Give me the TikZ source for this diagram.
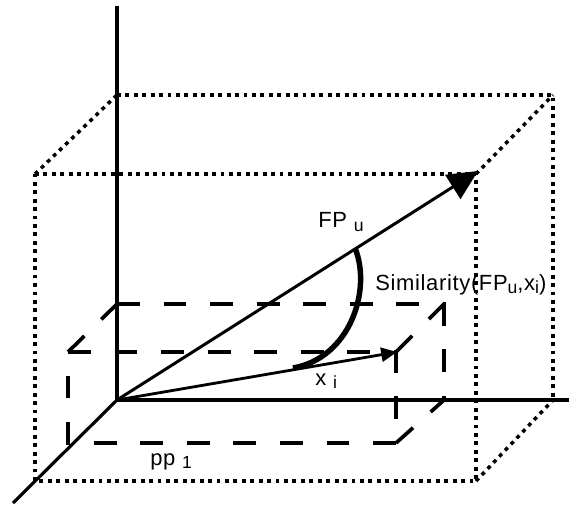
\documentclass[tikz,border=0pt]{standalone}
\usepackage{fontspec}
\setmainfont{Liberation Sans}[LetterSpace=3]
\usetikzlibrary{arrows.meta}
\newcommand{\lowsub}[1]{\raisebox{-2.2pt}{\fontsize{10}{12}\selectfont #1}}

\begin{document}
\begin{tikzpicture}[x=0.02cm, y=-0.02cm,
  axis/.style={line width=1.8pt},
  yaxis/.style={line width=2.4pt},
  fpvec/.style={-{Triangle[length=17pt, width=16pt]}, line width=1.7pt},
  xvec/.style={-{Triangle[length=9pt, width=8pt]}, line width=1.6pt},
  outerbox/.style={line width=2pt, dash pattern=on 2.2pt off 2.6pt},
  innerbox/.style={line width=2.1pt, dash pattern=on 13pt off 13.5pt},
  simarc/.style={line width=3.1pt},
  lbl/.style={font=\fontsize{12.5}{14}\selectfont, anchor=base west, inner sep=0pt}
]
\useasboundingbox (0,0) rectangle (570,506);

\coordinate (O) at (117,400);
\coordinate (ytop) at (117,6);
\coordinate (xend) at (569,400);
\coordinate (zend) at (13,503);

% dotted box
\coordinate (ftl) at (35,174);
\coordinate (ftr) at (476,174);
\coordinate (fbr) at (476,481);
\coordinate (fbl) at (35,481);
\coordinate (btl) at (117,95);
\coordinate (btr) at (553,95);
\coordinate (bbr) at (553,400);
\draw[outerbox] (ftl) -- (ftr) -- (fbr) -- (fbl) -- cycle;
\draw[outerbox] (btl) -- (btr) -- (bbr);
\draw[outerbox] (ftl) -- (btl);
\draw[outerbox] (ftr) -- (btr);
\draw[outerbox] (fbr) -- (bbr);

% dashed box
\coordinate (itl) at (68,352);
\coordinate (itr) at (396,352);
\coordinate (ibr) at (396,443);
\coordinate (ibl) at (68,443);
\coordinate (jtl) at (117,304);
\coordinate (jtr) at (444,304);
\coordinate (jbr) at (444,400);
\draw[innerbox] (itl) -- (itr) -- (ibr) -- (ibl) -- cycle;
\draw[innerbox] (jtl) -- (jtr) -- (jbr);
\draw[innerbox] (itl) -- (jtl);
\draw[innerbox] (itr) -- (jtr);
\draw[innerbox] (ibr) -- (jbr);

% axes
\draw[yaxis] (O) -- (ytop);
\draw[axis] (O) -- (xend);
\draw[axis] (O) -- (zend);

% vectors
\coordinate (fptip) at (478,171);
\coordinate (xtip) at (397,352);
\draw[fpvec] (O) -- (fptip);
\draw[xvec] (O) -- (xtip);

\coordinate (arcA) at (355,248);
\coordinate (arcB) at (293,368);
\draw[simarc] (arcA) .. controls (372,290) and (350,358) .. (arcB);

\node[lbl] (fplbl) at (318,228) {FP \lowsub{u}};
\node[lbl] (simlbl) at (375,290) {Similarity(FP\lowsub{u},x\lowsub{i})};
\node[lbl] (xlbl) at (315,385) {x \lowsub{i}};
\node[lbl] (pplbl) at (150,465) {pp \lowsub{1}};
\end{tikzpicture}
\end{document}
